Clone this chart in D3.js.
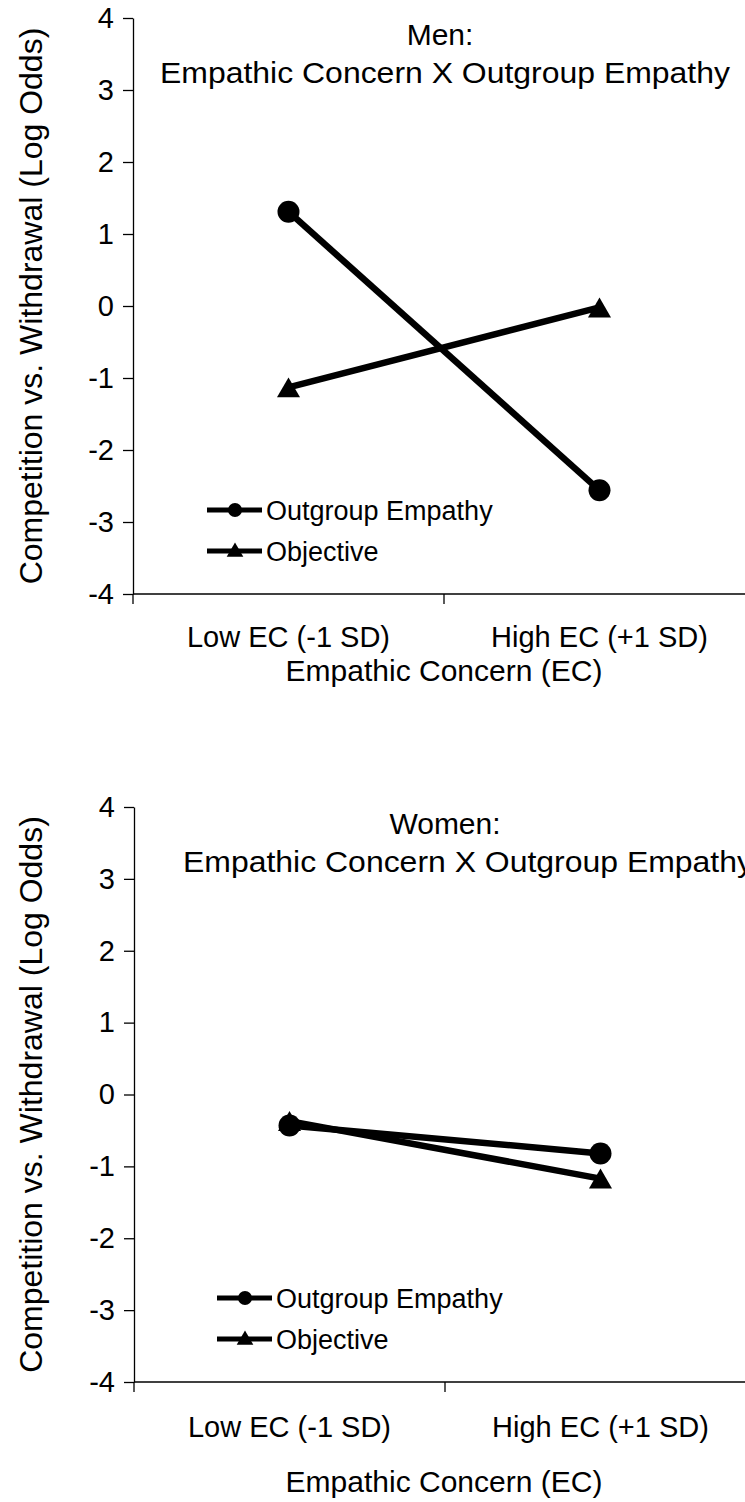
<!DOCTYPE html>
<html>
<head>
<meta charset="utf-8">
<script src="https://cdn.jsdelivr.net/npm/d3@7"></script>
<style>
  body { margin: 0; background: #fff; }
  svg { display: block; font-family: "Liberation Sans", Arial, sans-serif; }
</style>
</head>
<body>
<div id="chart"></div>
<script>
// chart data
var categories = ["Low EC (-1 SD)", "High EC (+1 SD)"];
var yTicks = [-4, -3, -2, -1, 0, 1, 2, 3, 4];
var seriesNames = ["Outgroup Empathy", "Objective"];
var panelTitles = ["Men:", "Women:"];
var panelSubtitle = "Empathic Concern X Outgroup Empathy";
var yLabel = "Competition vs. Withdrawal (Log Odds)";
var xLabel = "Empathic Concern (EC)";

var menOutgroup = [1.31, -2.56];
var menObjective = [-1.13, -0.02];
var womenOutgroup = [-0.43, -0.82];
var womenObjective = [-0.37, -1.17];

var w = 745;
var h = 1502;

var svg = d3.select('#chart')
    .append('svg')
    .attr('width', w)
    .attr('height', h);

// one panel per gender
var panels = [
    {title: panelTitles[0], series: [menOutgroup, menObjective],
     left: 133, top: 18, bottom: 594, titleX: 440, titleY: 45, subX: 445, subY: 83,
     tickLabelY: 647, xTitleY: 681, legendX: 207, legendY: 510},
    {title: panelTitles[1], series: [womenOutgroup, womenObjective],
     left: 134, top: 807, bottom: 1382, titleX: 445, titleY: 834, subX: 468, subY: 872,
     tickLabelY: 1437, xTitleY: 1492, legendX: 217, legendY: 1298}
];

var markerTriangle = d3.symbol().type(d3.symbolTriangle).size(230);
var legendTriangle = d3.symbol().type(d3.symbolTriangle).size(120);
// shift so the triangle's box (not its centroid) sits on the point
var triShift = Math.sqrt(230 / (Math.sqrt(3) * 3)) / 2;

panels.forEach(function (p) {
    var g = svg.append('g');

    var x = d3.scaleBand()
        .domain(categories)
        .range([p.left, p.left + 622]);

    var y = d3.scaleLinear()
        .domain([-4, 4])
        .range([p.bottom, p.top]);

    var cx = function (i) { return x(categories[i]) + x.bandwidth() / 2; };

    // y axis
    var yAxis = g.append('g')
        .attr('transform', 'translate(' + p.left + ',0)')
        .call(d3.axisLeft(y).tickValues(yTicks).tickSize(10).tickPadding(9).tickSizeOuter(0));
    yAxis.select('.domain').attr('stroke', '#000').attr('stroke-width', 1.3);
    yAxis.selectAll('.tick line').attr('stroke', '#000').attr('stroke-width', 1.3);
    yAxis.selectAll('.tick text')
        .attr('font-size', 29)
        .attr('font-family', '"Liberation Sans", Arial, sans-serif')
        .attr('fill', '#000')
        .text(function (d) { return d; });

    // x axis: line, boundary ticks, centred labels
    g.append('line')
        .attr('x1', p.left).attr('x2', w)
        .attr('y1', y(-4)).attr('y2', y(-4))
        .attr('stroke', '#000').attr('stroke-width', 1.3);
    g.selectAll('.xtick')
        .data(categories)
        .enter()
        .append('line')
        .attr('class', 'xtick')
        .attr('x1', function (d) { return x(d); })
        .attr('x2', function (d) { return x(d); })
        .attr('y1', y(-4)).attr('y2', y(-4) + 10)
        .attr('stroke', '#000').attr('stroke-width', 1.3);
    g.selectAll('.xlabel')
        .data(categories)
        .enter()
        .append('text')
        .attr('class', 'xlabel')
        .attr('x', function (d, i) { return cx(i); })
        .attr('y', p.tickLabelY)
        .attr('text-anchor', 'middle')
        .attr('font-size', 29)
        .text(function (d) { return d; });

    // axis titles
    g.append('text')
        .attr('x', 444).attr('y', p.xTitleY)
        .attr('text-anchor', 'middle')
        .attr('font-size', 30)
        .text(xLabel);
    g.append('text')
        .attr('transform', 'translate(42,' + ((p.top + p.bottom) / 2) + ') rotate(-90)')
        .attr('text-anchor', 'middle')
        .attr('font-size', 32)
        .text(yLabel);

    // panel title
    g.append('text')
        .attr('x', p.titleX).attr('y', p.titleY)
        .attr('text-anchor', 'middle')
        .attr('font-size', 30)
        .text(p.title);
    g.append('text')
        .attr('x', p.subX).attr('y', p.subY)
        .attr('text-anchor', 'middle')
        .attr('font-size', 29)
        .attr('textLength', 570)
        .attr('lengthAdjust', 'spacingAndGlyphs')
        .text(panelSubtitle);

    // lines and markers
    var line = d3.line()
        .x(function (d, i) { return cx(i); })
        .y(function (d) { return y(d); });

    p.series.forEach(function (vals, si) {
        g.append('path')
            .datum(vals)
            .attr('d', line)
            .attr('fill', 'none')
            .attr('stroke', '#000')
            .attr('stroke-width', 6.5);

        var markers = g.selectAll('.m' + si)
            .data(vals)
            .enter();
        if (si === 0) {
            markers.append('circle')
                .attr('cx', function (d, i) { return cx(i); })
                .attr('cy', function (d) { return y(d); })
                .attr('r', 11)
                .attr('fill', '#000');
        } else {
            markers.append('path')
                .attr('d', markerTriangle)
                .attr('transform', function (d, i) {
                    return 'translate(' + cx(i) + ',' + (y(d) + triShift) + ')';
                })
                .attr('fill', '#000');
        }
    });

    // legend
    seriesNames.forEach(function (name, si) {
        var ly = p.legendY + si * 41;
        g.append('line')
            .attr('x1', p.legendX).attr('x2', p.legendX + 55)
            .attr('y1', ly).attr('y2', ly)
            .attr('stroke', '#000').attr('stroke-width', 5);
        if (si === 0) {
            g.append('circle')
                .attr('cx', p.legendX + 28).attr('cy', ly)
                .attr('r', 7).attr('fill', '#000');
        } else {
            g.append('path')
                .attr('d', legendTriangle)
                .attr('transform', 'translate(' + (p.legendX + 28) + ',' + (ly + 1) + ')')
                .attr('fill', '#000');
        }
        g.append('text')
            .attr('x', p.legendX + 59).attr('y', ly + 10)
            .attr('font-size', 27)
            .text(name);
    });
});
</script>
</body>
</html>
